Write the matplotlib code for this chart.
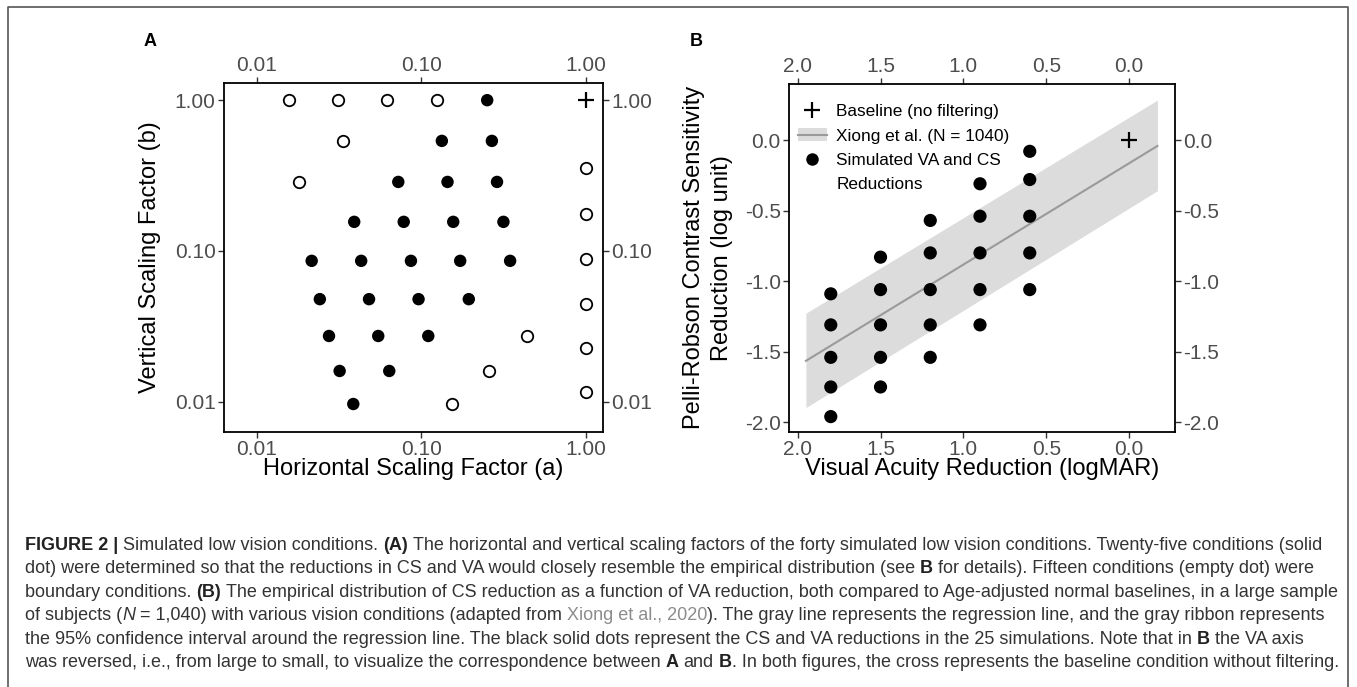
import matplotlib
matplotlib.use('Agg')
import matplotlib.pyplot as plt
from matplotlib import font_manager
from matplotlib.lines import Line2D
from matplotlib.patches import Patch
from matplotlib.ticker import NullLocator, FixedLocator, FixedFormatter

# ---------------- Panel A data ----------------
a_filled_x = [0.251,
              0.133, 0.268,
              0.0723, 0.144, 0.288,
              0.039, 0.078, 0.156, 0.315,
              0.0215, 0.043, 0.0863, 0.172, 0.346,
              0.0241, 0.048, 0.096, 0.194,
              0.0274, 0.0546, 0.110,
              0.0318, 0.0637,
              0.0385]
a_filled_y = [1.0,
              0.537, 0.537,
              0.287, 0.287, 0.287,
              0.156, 0.156, 0.156, 0.156,
              0.086, 0.086, 0.086, 0.086, 0.086,
              0.0479, 0.0479, 0.0479, 0.0479,
              0.0273, 0.0273, 0.0273,
              0.0160, 0.0160,
              0.00966]
a_open_x = [0.0156, 0.0312, 0.062, 0.124,
            0.0333, 0.0180, 0.441, 0.256, 0.154,
            1.0, 1.0, 1.0, 1.0, 1.0, 1.0]
a_open_y = [1.0, 1.0, 1.0, 1.0,
            0.537, 0.287, 0.0273, 0.0160, 0.00966,
            0.356, 0.176, 0.088, 0.0448, 0.0228, 0.0116]
a_base_x = [1.0]
a_base_y = [1.0]
a_ticks = [0.01, 0.1, 1.0]
a_ticklabels = ['0.01', '0.10', '1.00']

# ---------------- Panel B data ----------------
b_va = [1.8] * 5 + [1.5] * 5 + [1.2] * 5 + [0.9] * 5 + [0.6] * 5
b_cs = [-1.09, -1.31, -1.54, -1.75, -1.96,
        -0.83, -1.06, -1.31, -1.54, -1.75,
        -0.57, -0.80, -1.06, -1.31, -1.54,
        -0.31, -0.54, -0.80, -1.06, -1.31,
        -0.08, -0.28, -0.54, -0.80, -1.06]
b_base_va = [0.0]
b_base_cs = [0.0]
reg_va = [1.95, -0.17]
reg_cs = [-1.565, -0.042]
reg_lo = [-1.896, -0.359]
reg_hi = [-1.227, 0.283]
b_xticks = [2.0, 1.5, 1.0, 0.5, 0.0]
b_xticklabels = ['2.0', '1.5', '1.0', '0.5', '0.0']
b_yticks = [0.0, -0.5, -1.0, -1.5, -2.0]
b_yticklabels = ['0.0', '-0.5', '-1.0', '-1.5', '-2.0']

legend_labels = ['Baseline (no filtering)', 'Xiong et al. (N = 1040)',
                 'Simulated VA and CS', 'Reductions']

caption_lines = [
    [("FIGURE 2 |", 'b'), (" Simulated low vision conditions. ", 'n'), ("(A)", 'b'),
     (" The horizontal and vertical scaling factors of the forty simulated low vision conditions. Twenty-five conditions (solid", 'n')],
    [("dot) were determined so that the reductions in CS and VA would closely resemble the empirical distribution (see ", 'n'),
     ("B", 'b'), (" for details). Fifteen conditions (empty dot) were", 'n')],
    [("boundary conditions. ", 'n'), ("(B)", 'b'),
     (" The empirical distribution of CS reduction as a function of VA reduction, both compared to Age-adjusted normal baselines, in a large sample", 'n')],
    [("of subjects (", 'n'), ("N", 'i'), (" = 1,040) with various vision conditions (adapted from ", 'n'),
     ("Xiong et al., 2020", 'g'), ("). The gray line represents the regression line, and the gray ribbon represents", 'n')],
    [("the 95% confidence interval around the regression line. The black solid dots represent the CS and VA reductions in the 25 simulations. Note that in ", 'n'),
     ("B", 'b'), (" the VA axis", 'n')],
    [("was reversed, i.e., from large to small, to visualize the correspondence between ", 'n'), ("A", 'b'),
     (" and ", 'n'), ("B", 'b'), (". In both figures, the cross represents the baseline condition without filtering.", 'n')],
]

# ---------------- Styling ----------------
plt.rcParams['font.family'] = ['Liberation Sans', 'DejaVu Sans']
W, H = 1357, 687
fig = plt.figure(figsize=(W / 100, H / 100), dpi=100)

TICK_LBL = '#4d4d4d'
TICK_COL = '#333333'
RIBBON = '#dcdcdc'
REGLINE = '#9a9a9a'


def style_axes(ax):
    for s in ax.spines.values():
        s.set_linewidth(1.3)
        s.set_color('black')
    ax.tick_params(which='major', direction='out', length=4, width=1.0, color=TICK_COL,
                   labelcolor=TICK_LBL, labelsize=15, pad=2,
                   top=True, right=True, labeltop=True, labelright=True)
    ax.tick_params(which='minor', length=0)


def px_axes(left, top, right, bottom):
    return fig.add_axes([left / W, 1 - bottom / H, (right - left) / W, (bottom - top) / H])


# ---------------- Panel A ----------------
axA = px_axes(224, 83, 603, 432)
axA.set_xscale('log')
axA.set_yscale('log')
axA.set_xlim(0.0063, 1.27)
axA.set_ylim(0.0063, 1.30)
axA.scatter(a_filled_x, a_filled_y, s=80, color='black', edgecolors='none', zorder=3)
axA.scatter(a_open_x, a_open_y, s=68, facecolors='white', edgecolors='black', linewidths=1.3, zorder=3)
axA.plot(a_base_x, a_base_y, linestyle='none', marker='+', markersize=11, markeredgewidth=1.6,
         color='black', zorder=4)
for axis in (axA.xaxis, axA.yaxis):
    axis.set_major_locator(FixedLocator(a_ticks))
    axis.set_major_formatter(FixedFormatter(a_ticklabels))
    axis.set_minor_locator(NullLocator())
style_axes(axA)
axA.set_xlabel('Horizontal Scaling Factor (a)', fontsize=17, color='black')
axA.set_ylabel('Vertical Scaling Factor (b)', fontsize=17, color='black')
axA.xaxis.label.set_va('center')
axA.yaxis.label.set_va('center')
axA.xaxis.set_label_coords(0.5, -0.107)
axA.yaxis.set_label_coords(-0.195, 0.5)

# ---------------- Panel B ----------------
axB = px_axes(789, 84, 1175, 431.7)
axB.set_xlim(2.052, -0.276)
axB.set_ylim(-2.067, 0.397)
axB.fill_between(reg_va, reg_lo, reg_hi, color=RIBBON, linewidth=0, zorder=1)
axB.plot(reg_va, reg_cs, color=REGLINE, linewidth=1.5, zorder=2)
axB.scatter(b_va, b_cs, s=90, color='black', edgecolors='none', zorder=3)
axB.plot(b_base_va, b_base_cs, linestyle='none', marker='+', markersize=11, markeredgewidth=1.6,
         color='black', zorder=4)
axB.xaxis.set_major_locator(FixedLocator(b_xticks))
axB.xaxis.set_major_formatter(FixedFormatter(b_xticklabels))
axB.yaxis.set_major_locator(FixedLocator(b_yticks))
axB.yaxis.set_major_formatter(FixedFormatter(b_yticklabels))
style_axes(axB)
axB.set_xlabel('Visual Acuity Reduction (logMAR)', fontsize=17, color='black')
axB.set_ylabel('Pelli-Robson Contrast Sensitivity\nReduction (log unit)', fontsize=17,
               color='black', linespacing=1.35)
axB.xaxis.label.set_va('center')
axB.yaxis.label.set_va('center')
axB.xaxis.set_label_coords(0.5, -0.108)
axB.yaxis.set_label_coords(-0.21, 0.5)

h1 = Line2D([], [], linestyle='none', marker='+', markersize=11, markeredgewidth=1.6, color='black')
h2 = (Patch(facecolor=RIBBON, edgecolor='none'), Line2D([], [], color=REGLINE, linewidth=1.5))
h3 = Line2D([], [], linestyle='none', marker='o', markersize=9, markeredgewidth=0, color='black')
h4 = Line2D([], [], linestyle='none', marker=None, color='none')
leg = axB.legend([h1, h2, h3, h4], legend_labels, loc='upper left', bbox_to_anchor=(0.0225, 0.942),
                 frameon=False, fontsize=12.4, borderpad=0, borderaxespad=0,
                 handlelength=1.7, handleheight=0.75, handletextpad=0.55, labelspacing=0.52)

# ---------------- Panel letters ----------------
fig.text(150 / W, 1 - 42 / H, 'A', fontsize=13, fontweight='bold', ha='center', va='center')
fig.text(696 / W, 1 - 42 / H, 'B', fontsize=13, fontweight='bold', ha='center', va='center')

# ---------------- Figure border ----------------
bx0, bx1, by0 = 8, 1348, 7
fig.add_artist(Line2D([bx0 / W, bx0 / W, bx1 / W, bx1 / W], [0, 1 - by0 / H, 1 - by0 / H, 0],
                      transform=fig.transFigure, color='#555555', linewidth=1.2))

# ---------------- Caption ----------------
names = {f.name for f in font_manager.fontManager.ttflist}
cap_family = 'Liberation Sans Narrow' if 'Liberation Sans Narrow' in names else 'Liberation Sans'
renderer = fig.canvas.get_renderer()
CAP_COL = '#333333'


def run_kw(style, size):
    kw = dict(fontsize=size, family=[cap_family, 'DejaVu Sans'], color=CAP_COL)
    if style == 'b':
        kw['fontweight'] = 'bold'
        kw['color'] = '#222222'
    elif style == 'i':
        kw['fontstyle'] = 'italic'
    elif style == 'g':
        kw['color'] = '#8c8c8c'
    return kw


def width_of(s, kw):
    t = fig.text(0, 0, s, **kw)
    w = t.get_window_extent(renderer).width
    t.remove()
    return w


def draw_line(runs, x0, y, size, draw=True):
    kwn = run_kw('n', size)
    sp = width_of('a a', kwn) - width_of('aa', kwn)
    x = x0
    for s, style in runs:
        kw = run_kw(style, size)
        lead = len(s) - len(s.lstrip(' '))
        trail = len(s) - len(s.rstrip(' '))
        core = s.strip(' ')
        x += lead * sp
        if core:
            if draw:
                fig.text(x / W, 1 - y / H, core, ha='left', va='baseline', **kw)
            x += width_of(core, kw)
        x += trail * sp
    return x - x0


trial = 10.0
wmax = max(draw_line(r, 0, 0, trial, draw=False) for r in caption_lines)
cap_size = trial * (1341 - 25) / wmax
cap_x0 = 25
cap_y0 = 550
cap_dy = 23.4
for i, runs in enumerate(caption_lines):
    draw_line(runs, cap_x0, cap_y0 + i * cap_dy, cap_size)

fig.savefig('out.png', dpi=100)
